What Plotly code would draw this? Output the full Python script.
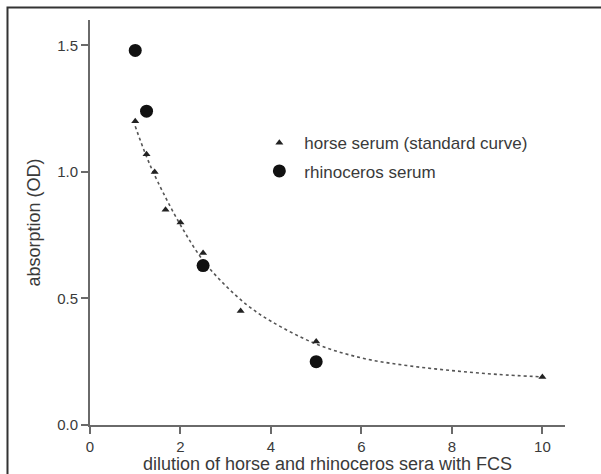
import plotly.graph_objects as go

# data
horse_x = [1, 1.25, 1.43, 1.67, 2, 2.5, 3.33, 5, 10]
horse_y = [1.20, 1.07, 1.00, 0.85, 0.80, 0.68, 0.45, 0.33, 0.19]

rhino_x = [1, 1.25, 2.5, 5]
rhino_y = [1.48, 1.24, 0.63, 0.25]

curve_x = [1, 1.25, 1.5, 2, 2.5, 3, 3.5, 4, 5, 6, 7, 8, 9, 10]
curve_y = [1.18, 1.06, 0.96, 0.79, 0.65, 0.55, 0.47, 0.41, 0.32, 0.265, 0.235, 0.215, 0.20, 0.19]

x_ticks = [0, 2, 4, 6, 8, 10]
y_ticks = [0.0, 0.5, 1.0, 1.5]
y_tick_labels = ["0.0", "0.5", "1.0", "1.5"]

FONT = "Liberation Sans, Arial, sans-serif"
TXT = "#3a3a3a"
AX = "#6a6a6a"

fig = go.Figure()

fig.add_trace(go.Scatter(
    x=curve_x, y=curve_y, mode="lines", line=dict(color="#555555", width=1.6, dash="dot", shape="spline"),
    showlegend=False, hoverinfo="skip"))

fig.add_trace(go.Scatter(
    x=horse_x, y=horse_y, mode="markers", name="horse serum (standard curve)",
    marker=dict(symbol="triangle-up", size=7, color="#222222"), legendgroup="a"))

fig.add_trace(go.Scatter(
    x=rhino_x, y=rhino_y, mode="markers", name="rhinoceros serum",
    marker=dict(symbol="circle", size=13, color="#111111"), legendgroup="b"))

fig.update_layout(
    width=601, height=474,
    margin=dict(l=90, r=36, t=20, b=49, autoexpand=False),
    paper_bgcolor="white", plot_bgcolor="white",
    font=dict(family=FONT, color=TXT, size=15),
    legend=dict(x=0.346, y=0.74, xanchor="left", yanchor="top",
                font=dict(size=17, color=TXT), bgcolor="rgba(0,0,0,0)",
                tracegroupgap=3, itemsizing="trace", itemwidth=40),
    shapes=[dict(type="rect", xref="paper", yref="paper",
                 x0=-0.1737, y0=-0.3, x1=1.3, y1=1.0309,
                 line=dict(color="#333333", width=2), layer="above")],
)

fig.update_xaxes(
    range=[0, 10.5], tickvals=x_ticks, showgrid=False, zeroline=False, automargin=False,
    showline=True, linecolor=AX, linewidth=2, ticks="outside", ticklen=7,
    tickcolor=AX, tickwidth=2, tickfont=dict(size=15, color=TXT),
    title=dict(text="dilution of horse and rhinoceros sera with FCS", font=dict(size=18, color=TXT), standoff=6))

fig.update_yaxes(
    range=[0, 1.6], tickvals=y_ticks, ticktext=y_tick_labels, showgrid=False, zeroline=False, automargin=False,
    showline=True, linecolor=AX, linewidth=2, ticks="outside", ticklen=7,
    tickcolor=AX, tickwidth=2, tickfont=dict(size=15, color=TXT),
    title=dict(text="absorption (OD)", font=dict(size=18, color=TXT), standoff=12))

fig.write_html("out.html", config={"displayModeBar": False},
               post_script="document.body.style.margin='0px';")
